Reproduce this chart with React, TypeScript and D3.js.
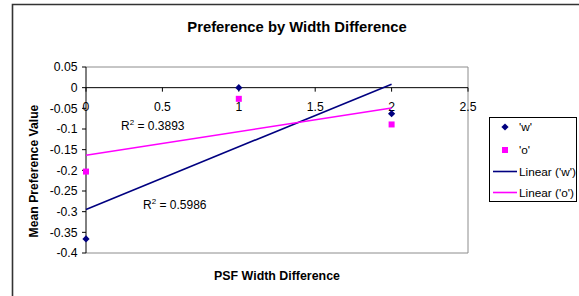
import React from "react";
import * as d3 from "d3";

const xValues = [0, 1, 2];
const wValues = [-0.366, 0.0, -0.063];
const oValues = [-0.203, -0.027, -0.089];
const yTicks = [0.05, 0, -0.05, -0.1, -0.15, -0.2, -0.25, -0.3, -0.35, -0.4];
const xTicks = [0, 0.5, 1, 1.5, 2, 2.5];
const seriesNames = ["'w'", "'o'", "Linear ('w')", "Linear ('o')"];
const r2Labels = ["0.5986", "0.3893"];

const W = 579, H = 296;
const NAVY = "#000080", MAG = "#FF00FF";

function fit(xs: number[], ys: number[]) {
  const n = xs.length;
  const mx = d3.mean(xs)!, my = d3.mean(ys)!;
  let sxy = 0, sxx = 0;
  for (let i = 0; i < n; i++) { sxy += (xs[i] - mx) * (ys[i] - my); sxx += (xs[i] - mx) ** 2; }
  const m = sxy / sxx;
  return { m, b: my - m * mx };
}

const fmt = (v: number) => {
  if (v === 0) return "0";
  return String(Math.round(v * 100) / 100);
};

export default function App() {
  const x = d3.scaleLinear().domain([0, 2.5]).range([86, 468]);
  const y = d3.scaleLinear().domain([-0.4, 0.05]).range([253, 67]);
  const fw = fit(xValues, wValues);
  const fo = fit(xValues, oValues);
  const trend = (f: { m: number; b: number }) =>
    d3.line<number>().x(d => x(d)).y(d => y(f.m * d + f.b))([0, 2]) || "";
  const font = "'Liberation Sans', Arial, sans-serif";
  const diamond = (cx: number, cy: number, r = 3.6) =>
    `M${cx},${cy - r}L${cx + r},${cy}L${cx},${cy + r}L${cx - r},${cy}Z`;

  return (
    <div style={{ position: "fixed", left: 0, top: 0 }}>
      <svg width={W} height={H} style={{ display: "block", background: "#fff" }} fontFamily={font}>
        {/* outer chart border */}
        <path d={`M12.5,${H + 5}V4.5H${W + 5}`} fill="none" stroke="#333" strokeWidth={1.6} />
        {/* title */}
        <text x={297} y={32} textAnchor="middle" fontSize={14.8} fontWeight="bold">Preference by Width Difference</text>
        {/* plot area border */}
        <path d={`M${x(0)},${y(0.05)}H${x(2.5)}V${y(-0.4)}H${x(0)}`} fill="none" stroke="#8c8c8c" strokeWidth={1} />
        {/* y axis */}
        <line x1={x(0)} x2={x(0)} y1={y(0.05)} y2={y(-0.4)} stroke="#000" strokeWidth={1} />
        {yTicks.map(t => (
          <g key={"y" + t}>
            <line x1={x(0) - 4} x2={x(0)} y1={y(t)} y2={y(t)} stroke="#000" />
            <text x={x(0) - 8.5} y={y(t) + 4.3} textAnchor="end" fontSize={12.2}>{fmt(t)}</text>
          </g>
        ))}
        {/* x axis at y=0 */}
        <line x1={x(0)} x2={x(2.5)} y1={y(0)} y2={y(0)} stroke="#000" strokeWidth={1} />
        {xTicks.map(t => (
          <g key={"x" + t}>
            <line x1={x(t)} x2={x(t)} y1={y(0)} y2={y(0) + 4} stroke="#000" />
            <text x={x(t)} y={y(0) + 23} textAnchor="middle" fontSize={12.2}>{fmt(t)}</text>
          </g>
        ))}
        {/* trendlines */}
        <path d={trend(fw)} stroke={NAVY} strokeWidth={1.6} fill="none" />
        <path d={trend(fo)} stroke={MAG} strokeWidth={1.6} fill="none" />
        {/* points */}
        {xValues.map((xv, i) => (
          <path key={"w" + i} d={diamond(x(xv), y(wValues[i]))} fill={NAVY} />
        ))}
        {xValues.map((xv, i) => (
          <rect key={"o" + i} x={x(xv) - 3} y={y(oValues[i]) - 3} width={6} height={6} fill={MAG} />
        ))}
        {/* R2 labels */}
        <text x={121} y={130} fontSize={12}>R<tspan dy={-5} fontSize={8}>2</tspan><tspan dy={5}> = {r2Labels[1]}</tspan></text>
        <text x={143} y={209} fontSize={12}>R<tspan dy={-5} fontSize={8}>2</tspan><tspan dy={5}> = {r2Labels[0]}</tspan></text>
        {/* axis titles */}
        <text x={277} y={280} textAnchor="middle" fontSize={12.4} fontWeight="bold">PSF Width Difference</text>
        <text transform={`translate(38,171) rotate(-90)`} textAnchor="middle" fontSize={12.2} fontWeight="bold">Mean Preference Value</text>
        {/* legend */}
        <rect x={489.5} y={117.5} width={87} height={84} fill="#fff" stroke="#000" strokeWidth={1} />
        <path d={diamond(505, 127)} fill={NAVY} />
        <rect x={502} y={147} width={6} height={6} fill={MAG} />
        <line x1={493} x2={517} y1={171.5} y2={171.5} stroke={NAVY} strokeWidth={1.6} />
        <line x1={493} x2={517} y1={192.5} y2={192.5} stroke={MAG} strokeWidth={1.6} />
        {seriesNames.map((s, i) => (
          <text key={s} x={519} y={[131, 154, 175.5, 196.5][i]} fontSize={11.8}>{s}</text>
        ))}
      </svg>
    </div>
  );
}
